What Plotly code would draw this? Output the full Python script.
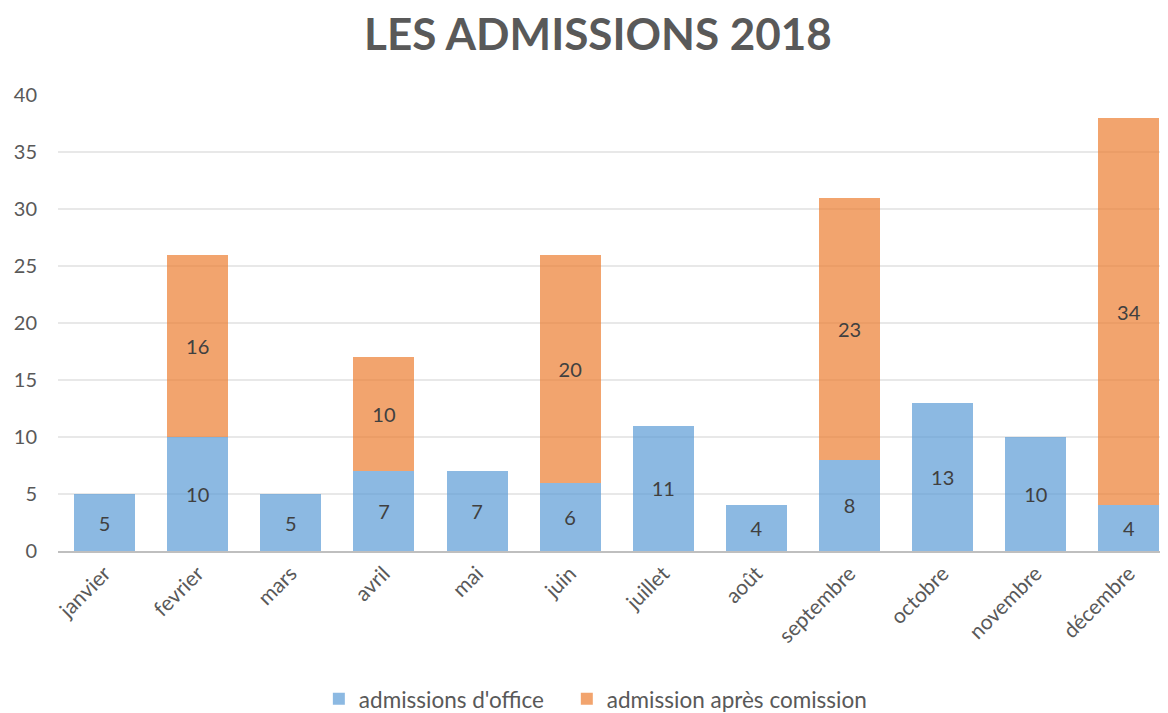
import plotly.graph_objects as go

months = ["janvier", "fevrier", "mars", "avril", "mai", "juin", "juillet",
          "août", "septembre", "octobre", "novembre", "décembre"]
office = [5, 10, 5, 7, 7, 6, 11, 4, 8, 13, 10, 4]
commission = [None, 16, None, 10, None, 20, None, None, 23, None, None, 34]

blue = "rgba(91,155,213,0.7)"
orange = "rgba(237,125,49,0.7)"
txt = "#404040"
FONT = "Lato"

fig = go.Figure()
fig.add_trace(go.Bar(
    x=months, y=office, name="admissions d'office",
    marker=dict(color=blue, line=dict(width=0)),
    text=office, textposition="inside", insidetextanchor="middle",
    textangle=0, constraintext="none",
    textfont=dict(family=FONT, size=20, color=txt),
    legend="legend", showlegend=True,
))
fig.add_trace(go.Bar(
    x=months, y=commission, name="admission après comission",
    marker=dict(color=orange, line=dict(width=0)),
    text=[v if v is not None else "" for v in commission],
    textposition="inside", insidetextanchor="middle",
    textangle=0, constraintext="none",
    textfont=dict(family=FONT, size=20, color=txt),
    legend="legend2", showlegend=True,
))

legend_common = dict(orientation="h", xanchor="left", y=-0.325, yanchor="middle",
                     font=dict(family=FONT, size=22.5, color="#595959"),
                     itemwidth=30, visible=True)

fig.update_layout(
    showlegend=True,
    barmode="stack",
    bargap=0.345,
    width=1160, height=705,
    margin=dict(l=50, r=0, t=87, b=162, autoexpand=False),
    plot_bgcolor="white", paper_bgcolor="white",
    font=dict(family=FONT, color="#595959", size=20),
    title=dict(text="<b>LES ADMISSIONS 2018</b>", x=0.5086, xanchor="center",
               y=0.962, yanchor="middle",
               font=dict(family=FONT, size=44, color="#595959")),
    legend=dict(x=0.235, **legend_common),
    legend2=dict(x=0.4584, **legend_common),
    xaxis=dict(range=[-0.5, 11.42], tickangle=-45, showline=True,
               linecolor="#bfbfbf", linewidth=2, showgrid=False,
               automargin=False,
               tickfont=dict(family=FONT, size=21, color="#595959")),
    yaxis=dict(range=[0, 40], dtick=5, showgrid=True, gridcolor="#e8e8e8",
               gridwidth=1.5, zeroline=False, showline=False,
               automargin=False, ticklabelstandoff=20,
               tickfont=dict(family=FONT, size=20, color="#595959")),
)

fig.write_html("out.html")
